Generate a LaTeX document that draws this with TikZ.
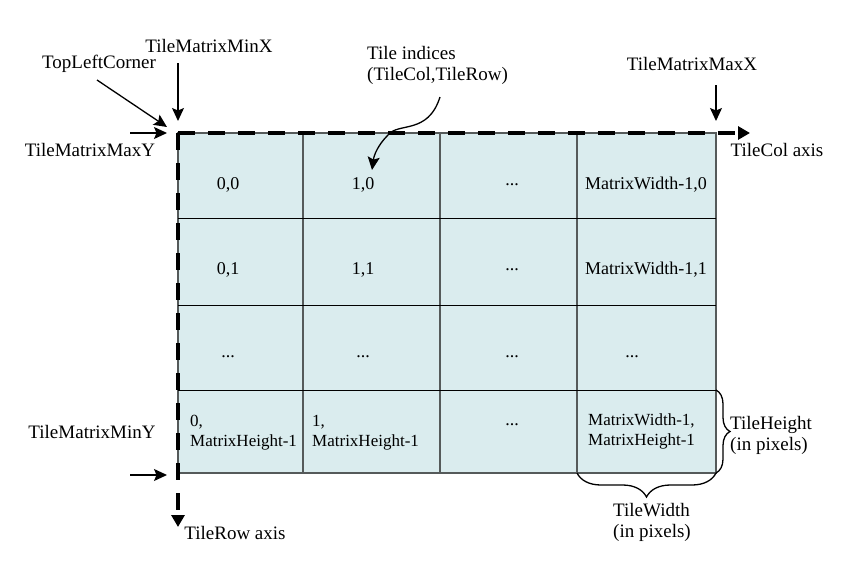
\documentclass[tikz,border=0pt]{standalone}
\usepackage{fontspec}
\setmainfont{Liberation Serif}
\usetikzlibrary{arrows.meta,decorations.pathreplacing,positioning}
\definecolor{tilefill}{RGB}{218,236,238}
\definecolor{gridgray}{RGB}{85,90,90}

\begin{document}
\begin{tikzpicture}[x=1pt,y=-1pt,
    lbl/.style={font=\fontsize{19}{21}\selectfont, inner sep=0pt, align=left},
    cell/.style={font=\fontsize{18}{20}\selectfont, inner sep=0pt, align=left},
    twocell/.style={font=\fontsize{17}{20}\selectfont, inner sep=0pt, align=left, anchor=west},
    pointer/.style={-{Stealth[length=13pt,width=12pt,inset=2.5pt]}, line width=1.3pt},
    axis/.style={line width=4pt, dash pattern=on 17pt off 13pt, -{Triangle[length=12pt,width=13pt]}},
    bracket/.style={decorate, line width=1.3pt}]
  \useasboundingbox (0,0) rectangle (865,573);
  % grid corners and axis ends
  \coordinate (tl) at (178,133);
  \coordinate (br) at (716,473);
  \coordinate (colend) at (750,133);
  \coordinate (rowend) at (178,527);
  \fill[tilefill] (tl) rectangle (br);
  \draw[gridgray, line width=1.2pt] (tl) rectangle (br);
  \foreach \x in {303,440,577} \draw[gridgray, line width=1.2pt] (\x,133) -- (\x,473);
  \foreach \y in {218,305,390} \draw[black, line width=1pt] (178,\y) -- (716,\y);
  \draw[axis] (tl) -- (colend);
  \draw[axis] (tl) -- (rowend);
  % cells
  \node[cell] (c00) at (228,185) {0,0};
  \node[cell] (c10) at (363,185) {1,0};
  \node[cell] (c20) at (512,185) {...};
  \node[cell] (c30) at (646,185) {MatrixWidth-1,0};
  \node[cell] (c01) at (228,270) {0,1};
  \node[cell] (c11) at (363,270) {1,1};
  \node[cell] (c21) at (512,270) {...};
  \node[cell] (c31) at (646,270) {MatrixWidth-1,1};
  \node[cell] (c02) at (228,357) {...};
  \node[cell] (c12) at (363,357) {...};
  \node[cell] (c22) at (512,357) {...};
  \node[cell] (c32) at (632,357) {...};
  \node[twocell] (c03) at (190,433) {0,\\MatrixHeight-1};
  \node[twocell] (c13) at (312,433) {1,\\MatrixHeight-1};
  \node[cell] (c23) at (512,425) {...};
  \node[twocell] (c33) at (588,431) {MatrixWidth-1,\\MatrixHeight-1};
  % labels round the grid
  \node[lbl] (minx) at (209,46) {TileMatrixMinX};
  \node[lbl] (corner) at (99,64) {TopLeftCorner};
  \node[lbl] (maxy) at (90,150) {TileMatrixMaxY};
  \node[lbl] (miny) at (92,432) {TileMatrixMinY};
  \node[lbl] (maxx) at (692,64) {TileMatrixMaxX};
  \node[lbl] (colax) at (777,150) {TileCol axis};
  \node[lbl] (rowax) at (235,533) {TileRow axis};
  \node[lbl, anchor=west] (indices) at (367,65) {Tile indices\\(TileCol,TileRow)};
  \node[lbl, anchor=west] (theight) at (730,435) {TileHeight\\(in pixels)};
  \node[lbl] (twidth) at (652,522) {TileWidth\\(in pixels)};
  % pointers
  \coordinate (minxtail) at (178,63);
  \coordinate (minxtip) at (178,121);
  \coordinate (cornertail) at (97,80);
  \coordinate (cornertip) at (167,127);
  \coordinate (maxytail) at (130,133);
  \coordinate (maxytip) at (167,133);
  \coordinate (minytail) at (130,475);
  \coordinate (minytip) at (167,475);
  \coordinate (maxxtail) at (716,85);
  \coordinate (maxxtip) at (716,121);
  \coordinate (idxtail) at (440,97);
  \coordinate (idxtip) at (372,170);
  \draw[pointer] (minxtail) -- (minxtip);
  \draw[pointer] (cornertail) -- (cornertip);
  \draw[pointer] (maxytail) -- (maxytip);
  \draw[pointer] (minytail) -- (minytip);
  \draw[pointer] (maxxtail) -- (maxxtip);
  \draw[pointer] (idxtail) .. controls (428,135) and (398,122) .. (388,135)
    .. controls (378,145) and (374,155) .. (idxtip);
  % tile size braces
  \draw[bracket, decoration={brace, amplitude=14pt}] (716,390) -- (716,473);
  \draw[bracket, decoration={brace, amplitude=24pt}] (716,473) -- (577,473);
\end{tikzpicture}
\end{document}
